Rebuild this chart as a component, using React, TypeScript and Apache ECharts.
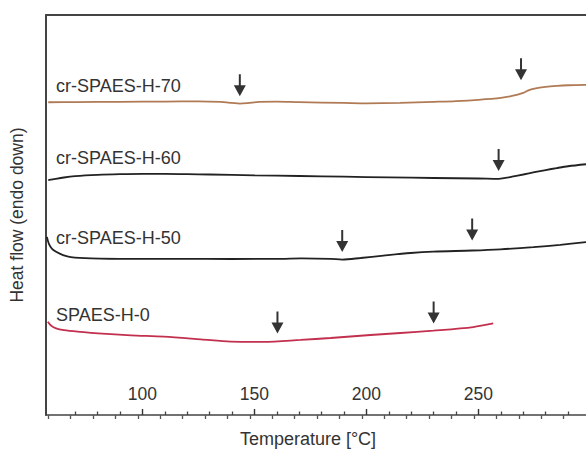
import React, { useEffect, useRef } from "react";
import * as echarts from "echarts";

// Temperature [°C] vs heat flow (arbitrary units, endo down)
const h70: [number, number][] = [
  [58, 314.3], [70, 314.5], [90, 314.7], [110, 315], [125, 315.2], [135, 314.6],
  [140, 313.6], [143.5, 312.9], [147, 313.4], [152, 314.6], [160, 315], [170, 314.4],
  [190, 313.6], [200, 313.2], [215, 313.6], [230, 314.7], [240, 315.5], [250, 316.8],
  [260, 318.7], [265, 320.6], [270, 323.8], [272, 326], [275, 328], [280, 329.8],
  [285, 330.8], [290, 331.4], [298, 331.8],
];
const h60: [number, number][] = [
  [58, 236], [60, 236.8], [65, 238.7], [70, 240], [80, 241.3], [90, 242], [100, 242.3],
  [110, 242.3], [120, 242], [130, 241.7], [150, 240.8], [170, 240.2], [190, 239.5],
  [210, 238.8], [230, 238.2], [250, 237.7], [259, 237.3], [262, 238.2], [265, 239.5],
  [270, 241.7], [275, 244], [280, 246.2], [285, 248.2], [290, 250], [298, 252],
];
const h50: [number, number][] = [
  [57.4, 179], [58.3, 172], [59.7, 167], [61.5, 164], [64.6, 160.7], [68.1, 158.7],
  [77.1, 157.5], [95, 157], [117, 157], [140, 156.8], [162, 157], [171, 157.4],
  [184, 157], [189.2, 156.2], [197.4, 157.8], [207.6, 160.2], [219.7, 162.8],
  [229.9, 164.2], [247.2, 165.3], [259.8, 166.5], [274.5, 168.7], [286.5, 171], [298, 173.7],
];
const h0: [number, number][] = [
  [57.8, 93.7], [59.2, 90], [61.5, 87], [65, 85.3], [72.6, 83.5], [80.2, 82], [94.9, 80],
  [109.6, 78.7], [126.1, 76], [139.4, 73.7], [154.1, 73.4], [170.6, 75.4], [184, 77.4],
  [201.8, 80.4], [215.2, 82.4], [229.9, 84.8], [247.7, 88.4], [256.6, 92],
];

// transition arrows (tip positions)
const arrowTips: [number, number][] = [
  [143.5, 320.3], [269, 336.3],
  [259, 245.3],
  [189.2, 163.7], [247.2, 175.3],
  [160.3, 82], [230, 92],
];

const seriesNames = ["cr-SPAES-H-70", "cr-SPAES-H-60", "cr-SPAES-H-50", "SPAES-H-0"];
const seriesColors = ["#b07a55", "#222222", "#222222", "#c2304e"];
const labelAnchors: [number, number][] = [[61.5, 331], [61.5, 258], [61.5, 178], [61.5, 100]];

const majorTicks = [100, 150, 200, 250];
const minorTicksUp = [70, 80, 90, 110, 120, 130, 140, 160, 170, 180, 190, 210, 220, 230, 240, 260, 270, 280, 290];
const ticksDown = [58, 68, 78, 88, 98, 108, 118, 128, 138, 148, 158, 168, 178, 188, 198, 208, 218, 228, 238, 248, 258, 268, 278, 288];

const X_MIN = 57;
const X_MAX = 298;
const FONT = "'Liberation Sans', Arial, sans-serif";

export default function App() {
  const ref = useRef<HTMLDivElement>(null);
  useEffect(() => {
    if (!ref.current) return;
    const chart = echarts.init(ref.current, undefined, { renderer: "svg" });
    const baseX = {
      type: "value" as const,
      min: X_MIN,
      max: X_MAX,
      splitLine: { show: false },
    };
    const datasets = [h70, h60, h50, h0];
    const lineSeries = datasets.map((d, i) => ({
      type: "line" as const,
      name: seriesNames[i],
      data: d,
      showSymbol: false,
      smooth: 0.3,
      lineStyle: { color: seriesColors[i], width: 1.8 },
      itemStyle: { color: seriesColors[i] },
      markPoint: {
        symbol: "circle",
        symbolSize: 0,
        data: [
          {
            coord: labelAnchors[i],
            label: {
              show: true,
              position: "right",
              distance: 0,
              formatter: seriesNames[i],
              color: "#333",
              fontSize: 18,
              fontFamily: FONT,
            },
          },
        ],
      },
    }));
    chart.setOption({
      animation: false,
      backgroundColor: "#ffffff",
      grid: { left: 45, right: 0, top: 15, bottom: 36 },
      xAxis: [
        {
          ...baseX,
          position: "bottom",
          name: "Temperature [°C]",
          nameLocation: "middle",
          nameGap: 15,
          nameTextStyle: { fontSize: 18, color: "#333", fontFamily: FONT, padding: [0, 16, 0, 0] },
          axisLine: { show: true, lineStyle: { color: "#444", width: 1.5 } },
          axisTick: { show: true, inside: true, length: 6, customValues: majorTicks, lineStyle: { color: "#333", width: 1.4 } },
          axisLabel: { show: true, inside: true, margin: 12, customValues: majorTicks, fontSize: 17.5, color: "#333", fontFamily: FONT },
        },
        {
          ...baseX,
          position: "bottom",
          axisLine: { show: false },
          axisTick: { show: true, inside: true, length: 3.5, customValues: minorTicksUp, lineStyle: { color: "#444", width: 1.3 } },
          axisLabel: { show: false },
        },
        {
          ...baseX,
          position: "bottom",
          axisLine: { show: false },
          axisTick: { show: true, inside: false, length: 4, customValues: ticksDown, lineStyle: { color: "#555", width: 1.3 } },
          axisLabel: { show: false },
        },
        {
          ...baseX,
          position: "top",
          axisLine: { show: true, lineStyle: { color: "#444", width: 2 } },
          axisTick: { show: false },
          axisLabel: { show: false },
        },
      ],
      yAxis: {
        type: "value",
        min: 0,
        max: 402,
        name: "Heat flow (endo down)",
        nameLocation: "middle",
        nameGap: 20,
        nameTextStyle: { fontSize: 17.5, color: "#333", fontFamily: FONT },
        axisLine: { show: true, lineStyle: { color: "#444", width: 2 } },
        axisTick: { show: false },
        axisLabel: { show: false },
        splitLine: { show: false },
      },
      series: [
        ...lineSeries,
        {
          type: "scatter",
          name: "arrows",
          data: arrowTips,
          symbol: "path://M5,0 L7,0 L7,11 L12,11 L6,22 L0,11 L5,11 Z",
          symbolSize: [12, 22],
          symbolOffset: [0, -11],
          itemStyle: { color: "#000" },
          silent: true,
        },
      ],
    });
    return () => chart.dispose();
  }, []);
  return (
    <div
      ref={ref}
      style={{ position: "fixed", left: 0, top: 0, width: 586, height: 453, background: "#fff" }}
    />
  );
}
